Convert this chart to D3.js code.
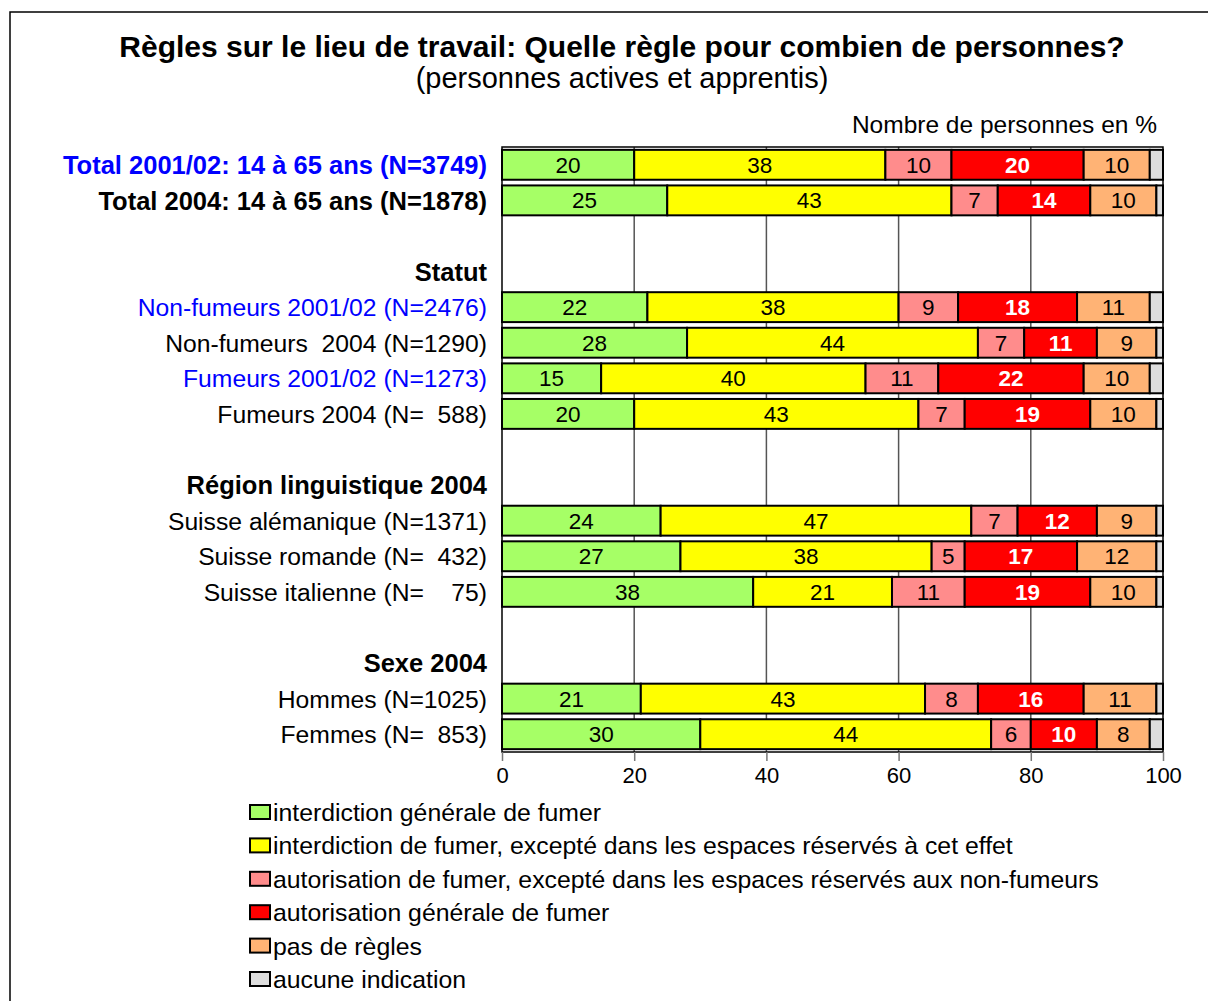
<!DOCTYPE html>
<html>
<head>
<meta charset="utf-8">
<script src="https://cdn.jsdelivr.net/npm/d3@7"></script>
<style>
  body { margin: 0; background: #fff; }
  text { font-family: "Liberation Sans", Arial, sans-serif; }
</style>
</head>
<body>
<svg width="1208" height="1001"></svg>
<script>
// Categories (empty = spacer row, header rows have no bars)
const categories = [
  "Total 2001/02: 14 à 65 ans (N=3749)",
  "Total 2004: 14 à 65 ans (N=1878)",
  "",
  "Statut",
  "Non-fumeurs 2001/02 (N=2476)",
  "Non-fumeurs  2004 (N=1290)",
  "Fumeurs 2001/02 (N=1273)",
  "Fumeurs 2004 (N=  588)",
  " ",
  "Région linguistique 2004",
  "Suisse alémanique (N=1371)",
  "Suisse romande (N=  432)",
  "Suisse italienne (N=    75)",
  "  ",
  "Sexe 2004",
  "Hommes (N=1025)",
  "Femmes (N=  853)"
];
const boldLabels = ["Total 2001/02: 14 à 65 ans (N=3749)", "Total 2004: 14 à 65 ans (N=1878)", "Statut", "Région linguistique 2004", "Sexe 2004"];
const blueLabels = ["Total 2001/02: 14 à 65 ans (N=3749)", "Non-fumeurs 2001/02 (N=2476)", "Fumeurs 2001/02 (N=1273)"];

// Series values (%), null for rows without a bar
const interdictionGenerale = [20, 25, null, null, 22, 28, 15, 20, null, null, 24, 27, 38, null, null, 21, 30];
const interdictionSauf     = [38, 43, null, null, 38, 44, 40, 43, null, null, 47, 38, 21, null, null, 43, 44];
const autorisationSauf     = [10, 7, null, null, 9, 7, 11, 7, null, null, 7, 5, 11, null, null, 8, 6];
const autorisationGenerale = [20, 14, null, null, 18, 11, 22, 19, null, null, 12, 17, 19, null, null, 16, 10];
const pasDeRegles          = [10, 10, null, null, 11, 9, 10, 10, null, null, 9, 12, 10, null, null, 11, 8];
const aucuneIndication     = [2, 1, null, null, 2, 1, 2, 1, null, null, 1, 1, 1, null, null, 1, 2];

const seriesNames = [
  "interdiction générale de fumer",
  "interdiction de fumer, excepté dans les espaces réservés à cet effet",
  "autorisation de fumer, excepté dans les espaces réservés aux non-fumeurs",
  "autorisation générale de fumer",
  "pas de règles",
  "aucune indication"
];
const seriesColors = ["#a6ff66", "#ffff00", "#ff8c8c", "#ff0000", "#ffb375", "#dddddd"];
const seriesValues = [interdictionGenerale, interdictionSauf, autorisationSauf, autorisationGenerale, pasDeRegles, aucuneIndication];
const xTicks = [0, 20, 40, 60, 80, 100];

const svg = d3.select("svg");

// frame
svg.append("rect")
  .attr("x", 10).attr("y", 12)
  .attr("width", 1210).attr("height", 1010)
  .attr("fill", "none").attr("stroke", "#000").attr("stroke-width", 1.5);

// titles
svg.append("text")
  .attr("x", 622).attr("y", 57)
  .attr("text-anchor", "middle")
  .attr("font-size", 30).attr("font-weight", "bold")
  .text("Règles sur le lieu de travail: Quelle règle pour combien de personnes?");
svg.append("text")
  .attr("x", 622).attr("y", 88)
  .attr("text-anchor", "middle")
  .attr("font-size", 29)
  .text("(personnes actives et apprentis)");
svg.append("text")
  .attr("x", 1157).attr("y", 133)
  .attr("text-anchor", "end")
  .attr("font-size", 24.5)
  .text("Nombre de personnes en %");

// scales
const x = d3.scaleLinear().domain([0, 100]).range([502, 1163]);
const y = d3.scaleBand().domain(categories).range([147, 752]).paddingInner(0.16).paddingOuter(0.08);

// grid lines
svg.append("g")
  .selectAll("line")
  .data(xTicks.slice(1, -1))
  .join("line")
  .attr("x1", d => x(d)).attr("x2", d => x(d))
  .attr("y1", 147).attr("y2", 752)
  .attr("stroke", "#555").attr("stroke-width", 1.5);

// stacked data
const rows = categories.map((c, i) => {
  let acc = 0;
  const segs = [];
  seriesValues.forEach((vals, s) => {
    const v = vals[i];
    if (v == null) return;
    segs.push({ cat: c, s: s, x0: acc, x1: acc + v, v: v });
    acc += v;
  });
  return segs;
}).flat();

svg.append("g")
  .selectAll("rect")
  .data(rows)
  .join("rect")
  .attr("x", d => x(d.x0))
  .attr("y", d => y(d.cat))
  .attr("width", d => x(d.x1) - x(d.x0))
  .attr("height", y.bandwidth())
  .attr("fill", d => seriesColors[d.s])
  .attr("stroke", "#000").attr("stroke-width", 2);

// value labels (not for "aucune indication")
svg.append("g")
  .selectAll("text")
  .data(rows.filter(d => d.s < 5))
  .join("text")
  .attr("x", d => x((d.x0 + d.x1) / 2))
  .attr("y", d => y(d.cat) + y.bandwidth() / 2)
  .attr("dy", "0.36em")
  .attr("text-anchor", "middle")
  .attr("font-size", 22.5)
  .attr("font-weight", d => d.s === 3 ? "bold" : "normal")
  .attr("fill", d => d.s === 3 ? "#fff" : "#000")
  .text(d => d.v);

// plot border
svg.append("rect")
  .attr("x", 502).attr("y", 147)
  .attr("width", 661).attr("height", 605)
  .attr("fill", "none").attr("stroke", "#000").attr("stroke-width", 1.5);

// category labels
svg.append("g")
  .selectAll("text")
  .data(categories)
  .join("text")
  .attr("x", 487)
  .attr("y", d => y(d) + y.bandwidth() / 2)
  .attr("dy", "0.36em")
  .attr("text-anchor", "end")
  .attr("font-size", d => boldLabels.includes(d) ? 25.5 : 24.7)
  .attr("xml:space", "preserve")
  .style("white-space", "pre")
  .attr("font-weight", d => boldLabels.includes(d) ? "bold" : "normal")
  .attr("fill", d => blueLabels.includes(d) ? "#0000ff" : "#000")
  .text(d => d.trim() === "" ? "" : d);

// x axis
const axis = svg.append("g")
  .attr("transform", "translate(0,752)")
  .call(d3.axisBottom(x).tickValues(xTicks).tickSize(9).tickPadding(6).tickSizeOuter(0));
axis.select(".domain").remove();
axis.selectAll(".tick line").attr("stroke", "#777").attr("stroke-width", 1.5);
axis.selectAll(".tick text")
  .attr("font-size", 22)
  .attr("font-family", "Liberation Sans, Arial, sans-serif")
  .attr("fill", "#000");

// legend
const legend = svg.append("g")
  .selectAll("g")
  .data(seriesNames)
  .join("g")
  .attr("transform", (d, i) => `translate(250, ${812 + i * 33.4})`);
legend.append("rect")
  .attr("x", 0).attr("y", -7)
  .attr("width", 20).attr("height", 14)
  .attr("fill", (d, i) => seriesColors[i])
  .attr("stroke", "#000").attr("stroke-width", 2);
legend.append("text")
  .attr("x", 23).attr("dy", "0.36em")
  .attr("font-size", 24.8)
  .text(d => d);
</script>
</body>
</html>
